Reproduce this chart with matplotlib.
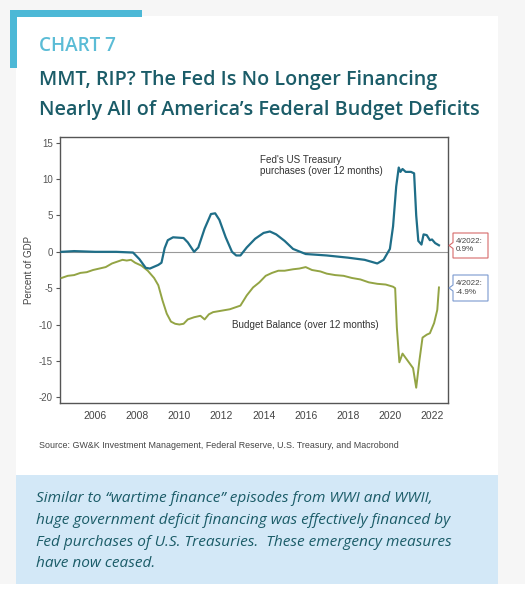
import numpy as np
import matplotlib.pyplot as plt
from matplotlib.patches import Rectangle, Polygon

plt.rcParams['axes.unicode_minus'] = False

# Fed's US Treasury purchases (over 12 months), % of GDP
fed_years = [2004.4, 2005.0, 2006.0, 2007.0, 2007.8, 2008.1, 2008.4, 2008.6, 2009.0, 2009.15,
             2009.3, 2009.45, 2009.7, 2010.2, 2010.4, 2010.7, 2010.9, 2011.2, 2011.5, 2011.7,
             2011.9, 2012.2, 2012.5, 2012.7, 2012.9, 2013.2, 2013.6, 2014.0, 2014.3, 2014.6,
             2015.0, 2015.4, 2016.0, 2017.0, 2018.0, 2018.8, 2019.4, 2019.7, 2020.0, 2020.15,
             2020.3, 2020.42, 2020.5, 2020.6, 2020.75, 2021.0, 2021.15, 2021.25, 2021.35, 2021.5,
             2021.6, 2021.75, 2021.9, 2022.0, 2022.15, 2022.33]
fed_vals = [0.0, 0.1, 0.0, 0.0, -0.1, -1.0, -2.2, -2.3, -1.8, -1.5,
            0.5, 1.6, 2.0, 1.9, 1.3, 0.0, 0.6, 3.2, 5.2, 5.3,
            4.4, 2.0, 0.0, -0.5, -0.5, 0.6, 1.8, 2.6, 2.8, 2.4,
            1.5, 0.4, -0.3, -0.5, -0.8, -1.1, -1.6, -1.1, 0.4, 3.5,
            9.0, 11.6, 11.0, 11.4, 11.0, 11.0, 10.8, 5.0, 1.5, 1.0,
            2.4, 2.3, 1.6, 1.7, 1.2, 0.9]

# Budget balance (over 12 months), % of GDP
bud_years = [2004.4, 2004.7, 2005.0, 2005.3, 2005.6, 2005.9, 2006.2, 2006.5, 2006.8, 2007.0,
             2007.3, 2007.5, 2007.7, 2007.9, 2008.2, 2008.5, 2008.8, 2009.0, 2009.2, 2009.4,
             2009.6, 2009.8, 2010.0, 2010.2, 2010.4, 2010.7, 2011.0, 2011.2, 2011.4, 2011.6,
             2012.0, 2012.4, 2012.7, 2012.9, 2013.2, 2013.5, 2013.8, 2014.1, 2014.4, 2014.7,
             2015.0, 2015.4, 2015.7, 2016.0, 2016.3, 2016.7, 2017.0, 2017.4, 2017.8, 2018.2,
             2018.6, 2019.0, 2019.4, 2019.8, 2020.15, 2020.25, 2020.33, 2020.45, 2020.6, 2020.75,
             2020.9, 2021.1, 2021.25, 2021.4, 2021.55, 2021.75, 2021.9, 2022.1, 2022.25, 2022.33]
bud_vals = [-3.6, -3.3, -3.2, -2.9, -2.8, -2.5, -2.3, -2.1, -1.6, -1.4,
            -1.1, -1.2, -1.1, -1.5, -1.9, -2.6, -3.6, -4.6, -6.7, -8.5,
            -9.6, -9.9, -10.0, -9.9, -9.3, -9.0, -8.8, -9.3, -8.6, -8.3,
            -8.1, -7.9, -7.6, -7.4, -6.0, -4.9, -4.2, -3.3, -2.9, -2.6,
            -2.6, -2.4, -2.3, -2.1, -2.5, -2.7, -3.0, -3.2, -3.3, -3.6,
            -3.8, -4.2, -4.4, -4.5, -4.8, -5.0, -10.4, -15.2, -14.0, -14.6,
            -15.2, -16.0, -18.7, -15.0, -11.8, -11.4, -11.2, -9.8, -8.0, -4.9]

y_ticks = [15, 10, 5, 0, -5, -10, -15, -20]
x_ticks = [2006, 2008, 2010, 2012, 2014, 2016, 2018, 2020, 2022]

W, H = 525, 610
fig = plt.figure(figsize=(W / 100, H / 100), dpi=100)
fig.patch.set_facecolor('white')

def fx(px):
    return px / W

def fy(py):
    return 1 - py / H

def box(x0, y0, x1, y1, color, z):
    fig.patches.append(Rectangle((fx(x0), fy(y1)), fx(x1 - x0), (y1 - y0) / H,
                                 transform=fig.transFigure, facecolor=color,
                                 edgecolor='none', zorder=z))

# page shade, card, accent bar and note box
box(0, 0, 525, 584, '#f6f6f6', -5)
box(16, 16, 498, 584, 'white', -4)
box(10, 10, 142, 17, '#4cb8d6', -3)
box(10, 10, 17, 68, '#4cb8d6', -3)
box(16, 475, 498, 584, '#d3e8f7', -3)

teal = '#1b5c68'
fig.text(fx(39), fy(46), 'CHART 7', color='#5bbcd6', fontsize=13.6, family='Open Sans',
         fontweight='semibold', va='center')
fig.text(fx(39), fy(80), 'MMT, RIP? The Fed Is No Longer Financing', color=teal,
         fontsize=14.2, family='Open Sans', fontweight='semibold', va='center')
fig.text(fx(39), fy(110), 'Nearly All of America\u2019s Federal Budget Deficits', color=teal,
         fontsize=14.2, family='Open Sans', fontweight='semibold', va='center')

note = ['Similar to \u201cwartime finance\u201d episodes from WWI and WWII,',
        'huge government deficit financing was effectively financed by',
        'Fed purchases of U.S. Treasuries.  These emergency measures',
        'have now ceased.']
for i, line in enumerate(note):
    fig.text(fx(36), fy(499 + i * 21.5), line, color=teal, fontsize=11.1, family='Open Sans',
             style='italic', va='center')

fig.text(fx(39), fy(446), 'Source: GW&K Investment Management, Federal Reserve, U.S. Treasury, and Macrobond',
         color='#444444', fontsize=6.4, family='Liberation Sans', va='center')

ax = fig.add_axes([fx(60), fy(403), fx(388), 266 / H], zorder=2)
ax.set_facecolor('white')
ax.plot(bud_years, bud_vals, color='#93a444', lw=1.4, zorder=3)
ax.plot(fed_years, fed_vals, color='#1f6e88', lw=1.6, zorder=4)
ax.axhline(0, color='#999999', lw=0.8, zorder=2)

ax.set_xlim(2004.33, 2022.76)
ax.set_ylim(-20.8, 15.8)
ax.set_yticks(y_ticks)
ax.set_xticks(x_ticks)
ax.tick_params(axis='y', length=3, color='#555555', labelsize=7, labelcolor='#555555', pad=2)
ax.tick_params(axis='x', length=0, labelsize=7.5, labelcolor='#444444', pad=6)
for lab in ax.get_xticklabels() + ax.get_yticklabels():
    lab.set_family('Liberation Sans')
for s in ax.spines.values():
    s.set_color('#555555')
    s.set_linewidth(1.0)
ax.set_ylabel('Percent of GDP', fontsize=7, color='#444444', family='Liberation Sans', labelpad=4)

ax.text(2013.85, 13.3, "Fed's US Treasury\npurchases (over 12 months)", fontsize=7.1,
        color='#333333', family='Liberation Sans', va='top', linespacing=1.05)
ax.text(2012.5, -10.0, 'Budget Balance (over 12 months)', fontsize=7.1,
        color='#333333', family='Liberation Sans', va='center')

# end-value call-outs with a small notch pointing at the axis
for y0, y1, txt, ec in [(233, 258, '4/2022:\n0.9%', '#d66a6a'),
                        (275, 301, '4/2022:\n-4.9%', '#7a9ad0')]:
    ym = (y0 + y1) / 2
    pts = [(453, y0), (488, y0), (488, y1), (453, y1), (453, ym + 3), (449, ym), (453, ym - 3)]
    fig.patches.append(Polygon([(fx(px), fy(py)) for px, py in pts], closed=True,
                               transform=fig.transFigure, facecolor='white', edgecolor=ec,
                               lw=0.8, zorder=3))
    fig.text(fx(456), fy(ym), txt, fontsize=5.8, color='#444444', family='Liberation Sans',
             va='center', ha='left', linespacing=1.3, zorder=4)

fig.savefig('out.png', dpi=100, facecolor=fig.get_facecolor())
